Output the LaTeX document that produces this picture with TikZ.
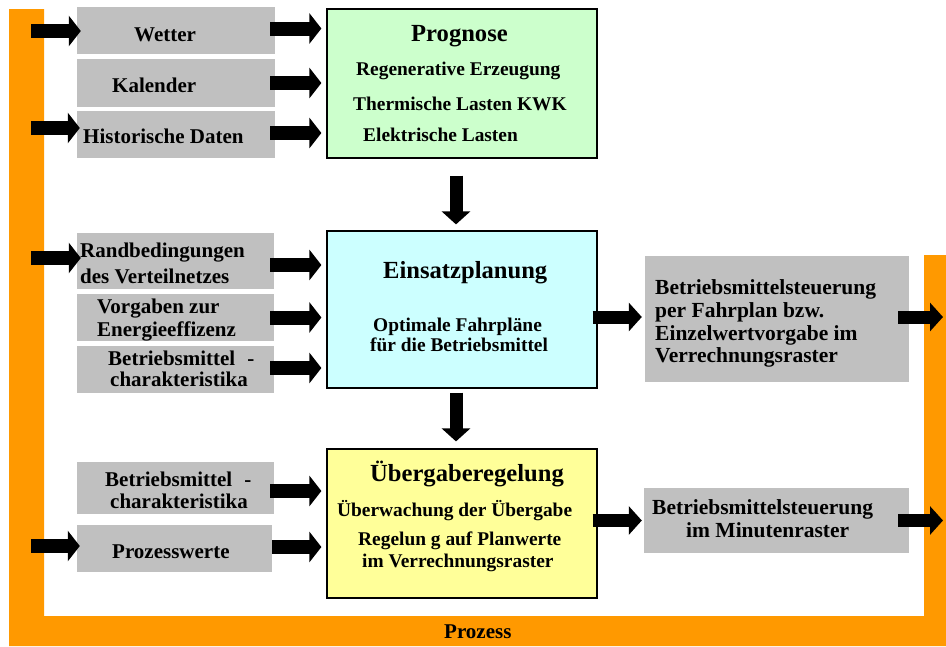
\documentclass[tikz,border=0pt]{standalone}
\usepackage{fontspec}
\setmainfont{Liberation Serif}
\usetikzlibrary{arrows.meta,calc}
\definecolor{grayb}{HTML}{C0C0C0}
\definecolor{greenb}{HTML}{CCFFCC}
\definecolor{cyanb}{HTML}{CCFFFF}
\definecolor{yellowb}{HTML}{FFFF99}
\definecolor{orangeP}{HTML}{FF9900}
\begin{document}
\begin{tikzpicture}[x=1pt,y=-1pt,
  gbox/.style={fill=grayb, draw=none, inner sep=0pt},
  cbox/.style={draw=black, line width=1.2pt, inner sep=0pt},
  fa/.style={font=\bfseries\fontsize{21}{24}\selectfont, inner sep=0pt, anchor=base west},
  fb/.style={font=\bfseries\fontsize{19.4}{22}\selectfont, inner sep=0pt, anchor=base west},
  fc/.style={font=\bfseries\fontsize{24.6}{28}\selectfont, inner sep=0pt, anchor=base west},
  fd/.style={font=\bfseries\fontsize{21.5}{24}\selectfont, inner sep=0pt, anchor=base west},
  barrow/.style={line width=14pt, -{Triangle[length=12pt,width=30pt]}},
  darrow/.style={line width=13pt, -{Triangle[length=13pt,width=28pt]}}
]
\useasboundingbox (0,0) rectangle (946,646);
% orange process frame
\fill[orangeP] (9,9) -- (44,9) -- (44,616) -- (924,616) -- (924,255) -- (946,255) -- (946,646) -- (9,646) -- cycle;
\coordinate (inL) at (31,0);
\coordinate (outR) at (943,0);

% left gray boxes
\node[gbox, minimum width=198pt, minimum height=47pt] (wetter) at (176,30.5) {};
\node[gbox, minimum width=198pt, minimum height=48pt] (kal) at (176,83) {};
\node[gbox, minimum width=198pt, minimum height=47pt] (hist) at (176,134.5) {};
\node[gbox, minimum width=197pt, minimum height=56pt] (rand) at (175.5,261) {};
\node[gbox, minimum width=197pt, minimum height=47pt] (vorg) at (175.5,317.5) {};
\node[gbox, minimum width=197pt, minimum height=47pt] (betrA) at (175.5,369.5) {};
\node[gbox, minimum width=197pt, minimum height=52pt] (betrB) at (175.5,488) {};
\node[gbox, minimum width=195pt, minimum height=47pt] (proz) at (174.5,548.5) {};

% central boxes
\node[cbox, fill=greenb, minimum width=270pt, minimum height=149pt] (prog) at (462,83.5) {};
\node[cbox, fill=cyanb, minimum width=270pt, minimum height=157pt] (ein) at (462,309.5) {};
\node[cbox, fill=yellowb, minimum width=270pt, minimum height=149pt] (ueb) at (462,523.5) {};

% right gray boxes
\node[gbox, minimum width=264pt, minimum height=126pt] (fahr) at (777,319) {};
\node[gbox, minimum width=265pt, minimum height=65pt] (minr) at (776.5,520.5) {};

% texts left
\node[fa] (tWetter) at (134,41.7) {Wetter};
\node[fa] (tKal) at (112,92) {Kalender};
\node[fa] (tHist) at (83,143) {Historische Daten};
\node[fa] (tRand1) at (80,257.5) {Randbedingungen};
\node[fa] (tRand2) at (80,283) {des Verteilnetzes};
\node[fa] (tVorg1) at (97,313) {Vorgaben zur};
\node[fa] (tVorg2) at (97,336.5) {Energieeffizenz};
\node[fa] (tBetrA1) at (108,365) {Betriebsmittel\hspace{12pt}-};
\node[fa] (tBetrA2) at (110,386) {charakteristika};
\node[fa] (tBetrB1) at (105,486.7) {Betriebsmittel\hspace{12pt}-};
\node[fa] (tBetrB2) at (110,508.3) {charakteristika};
\node[fa] (tProz) at (112,558.3) {Prozesswerte};

% texts central
\node[fc] (tProg) at (411,41) {Prognose};
\node[fb] (tProg1) at (356,75) {Regenerative Erzeugung};
\node[fb] (tProg2) at (353,110) {Thermische Lasten KWK};
\node[fb] (tProg3) at (363,141.7) {Elektrische Lasten};
\node[fc] (tEin) at (383,278.3) {Einsatzplanung};
\node[fb] (tEin1) at (373,331.7) {Optimale Fahrpläne};
\node[fb] (tEin2) at (370,351.7) {für die Betriebsmittel};
\node[fc] (tUeb) at (370,481.7) {Übergaberegelung};
\node[fb] (tUeb1) at (337,516) {Überwachung der Übergabe};
\node[fb] (tUeb2) at (358,545) {Regelun g auf Planwerte};
\node[fb] (tUeb3) at (362,567.3) {im Verrechnungsraster};

% texts right
\node[fd] (tFahr1) at (655,294.3) {Betriebsmittelsteuerung};
\node[fd] (tFahr2) at (655,317.3) {per Fahrplan bzw.};
\node[fd] (tFahr3) at (655,340) {Einzelwertvorgabe im};
\node[fd] (tFahr4) at (655,362.7) {Verrechnungsraster};
\node[fd] (tMin1) at (652,514) {Betriebsmittelsteuerung};
\node[fd] (tMin2) at (686,537.3) {im Minutenraster};
\node[fa] (tProzess) at (444,638.3) {Prozess};

% input arrows from process
\coordinate (hW) at ([xshift=4pt,yshift=-0.5pt]wetter.west);
\coordinate (hH) at ([xshift=3pt,yshift=6.5pt]hist.west);
\coordinate (hR) at ([xshift=4pt,yshift=3pt]rand.west);
\coordinate (hP) at ([xshift=3pt,yshift=2.5pt]proz.west);
\draw[barrow] (inL |- hW) -- (hW);
\draw[barrow] (inL |- hH) -- (hH);
\draw[barrow] (inL |- hR) -- (hR);
\draw[barrow] (inL |- hP) -- (hP);

% arrows into central boxes
\draw[barrow] ($(wetter.east)+(-5,-2)$) -- ($(prog.west |- wetter.east)+(-5,-2)$);
\draw[barrow] ($(kal.east)+(-5,0)$) -- ($(prog.west |- kal.east)+(-5,0)$);
\draw[barrow] ($(hist.east)+(-5,-1.5)$) -- ($(prog.west |- hist.east)+(-5,-1.5)$);
\draw[barrow] ($(rand.east)+(-4,4)$) -- ($(ein.west |- rand.east)+(-5,4)$);
\draw[barrow] ($(vorg.east)+(-4,0)$) -- ($(ein.west |- vorg.east)+(-5,0)$);
\draw[barrow] ($(betrA.east)+(-4,-1.5)$) -- ($(ein.west |- betrA.east)+(-5,-1.5)$);
\draw[barrow] ($(betrB.east)+(-4,3)$) -- ($(ueb.west |- betrB.east)+(-5,3)$);
\draw[barrow] ($(proz.east)+(0,-1.5)$) -- ($(ueb.west |- proz.east)+(-5,-1.5)$);

% vertical arrows
\draw[darrow] ($(prog.south)+(-6,17)$) -- ($(ein.north)+(-6,-6)$);
\draw[darrow] ($(ein.south)+(-6,4)$) -- ($(ueb.north)+(-6,-7)$);

% arrows to right boxes
\draw[darrow] ($(ein.east |- fahr.west)+(-5,-2)$) -- ($(fahr.west)+(-3,-2)$);
\draw[darrow] ($(ueb.east |- minr.west)+(-5,0)$) -- ($(minr.west)+(-2,0)$);

% output arrows to process
\draw[darrow] ($(fahr.east)+(-11,-2)$) -- ($(outR |- fahr.east)+(0,-2)$);
\draw[darrow] ($(minr.east)+(-11,0)$) -- (outR |- minr.east);
\end{tikzpicture}
\end{document}
